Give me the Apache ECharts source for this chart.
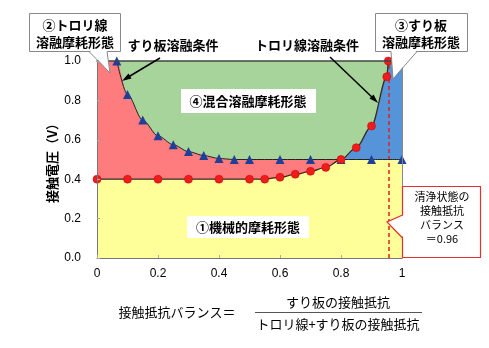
<!DOCTYPE html>
<html><head><meta charset="utf-8">
<script src="https://cdn.jsdelivr.net/npm/echarts@6/dist/echarts.min.js"></script>
<style>html,body{margin:0;padding:0;background:#fff}#c{width:489px;height:348px}</style>
</head><body><div id="c"></div>
<script>
// Data
const slideX = [0.065, 0.1, 0.15, 0.2, 0.25, 0.3, 0.35, 0.4, 0.45, 0.5, 0.6, 0.7, 0.8, 0.9, 1.0];
const slideY = [1.0, 0.83, 0.70, 0.62, 0.575, 0.54, 0.52, 0.505, 0.5, 0.5, 0.5, 0.5, 0.5, 0.5, 0.5];
const trolleyX = [0, 0.1, 0.2, 0.3, 0.4, 0.5, 0.55, 0.6, 0.65, 0.7, 0.75, 0.8, 0.85, 0.9, 0.95, 0.955];
const trolleyY = [0.4, 0.4, 0.4, 0.4, 0.4, 0.4, 0.4, 0.41, 0.425, 0.44, 0.46, 0.5, 0.56, 0.67, 0.92, 1.0];
const cleanBalance = 0.955;
const xTicks = [0, 0.2, 0.4, 0.6, 0.8, 1];
const yTicks = [0, 0.2, 0.4, 0.6, 0.8, 1.0];

const zip = (xs, ys) => xs.map((x, i) => [x, ys[i]]);
const slidePts = zip(slideX, slideY);
const trolleyPts = zip(trolleyX, trolleyY);
// region boundaries derived from the two curves
const pinkTop = [[0, 1.0]].concat(slidePts);
const blueTop = trolleyPts.concat([[1, 1.0]]);
const yellowTop = trolleyPts.filter(p => p[0] <= 0.8).concat(slidePts.filter(p => p[0] > 0.8));
const greenTop = [[0, 1.0], [1, 1.0]];

const F = '"Noto Sans CJK JP", sans-serif';
const area = (data, color, z, smooth) => ({
  type: 'line', data, smooth: smooth, smoothMonotone: 'x', symbol: 'none', z,
  lineStyle: { width: 0 }, areaStyle: { color, opacity: 1, origin: 'start' }, silent: true
});

const chart = echarts.init(document.getElementById('c'), null, { renderer: 'canvas' });
const txt = (x, y, s, size, weight, align) => ({
  type: 'text', x, y, z: 100,
  style: { text: s, font: (weight || 'normal') + ' ' + size + 'px ' + F, fill: '#000', textAlign: align || 'center', textVerticalAlign: 'middle' }
});
chart.setOption({
  animation: false,
  grid: { left: 97, right: 87, top: 61, bottom: 90 },
  xAxis: [{
    type: 'value', min: 0, max: 1, interval: 0.2,
    axisLine: { show: true, lineStyle: { color: '#777', width: 1 } },
    axisTick: { show: true, inside: true, length: 3, lineStyle: { color: '#aaa' } },
    splitLine: { show: false },
    axisLabel: { color: '#000', fontSize: 12, fontFamily: 'Liberation Sans, Arial', margin: 10,
      formatter: v => { const t = xTicks.find(k => Math.abs(k - v) < 1e-6); return t === undefined ? '' : String(t); } },
    z: 50
  }, {
    type: 'value', min: 0, max: 1, position: 'top',
    axisLine: { show: true, onZero: false, lineStyle: { color: '#444', width: 1.5 } },
    axisTick: { show: false }, axisLabel: { show: false }, splitLine: { show: false }, z: 50
  }],
  yAxis: [{
    type: 'value', min: 0, max: 1, interval: 0.2,
    axisLine: { show: true, lineStyle: { color: '#777', width: 1 } },
    axisTick: { show: true, inside: true, length: 3, lineStyle: { color: '#aaa' } },
    splitLine: { show: false },
    axisLabel: { color: '#000', fontSize: 12, fontFamily: 'Liberation Sans, Arial', margin: 16,
      formatter: v => { const t = yTicks.find(k => Math.abs(k - v) < 1e-6); return t === undefined ? '' : t.toFixed(1); } },
    z: 50
  }, {
    type: 'value', min: 0, max: 1, position: 'right',
    axisLine: { show: true, onZero: false, lineStyle: { color: '#888', width: 1 } },
    axisTick: { show: false }, axisLabel: { show: false }, splitLine: { show: false }, z: 50
  }],
  series: [
    area(greenTop, '#a6d49a', 1, false),
    area(pinkTop, '#ff7c7e', 2, 0.3),
    area(blueTop, '#5594d8', 3, 0.3),
    area(yellowTop, '#ffff99', 4, 0.3),
    {
      type: 'line', data: slidePts, smooth: 0.3, smoothMonotone: 'x', z: 10,
      symbol: 'triangle', symbolSize: 9,
      itemStyle: { color: '#1f3f99' }, lineStyle: { color: '#222', width: 1 }
    },
    {
      type: 'line', data: trolleyPts, smooth: 0.3, smoothMonotone: 'x', z: 11,
      symbol: 'circle', symbolSize: 8,
      itemStyle: { color: '#ee1c1c', borderColor: '#c00', borderWidth: 0.5 }, lineStyle: { color: '#3a2a20', width: 1.3 },
      markLine: {
        silent: true, symbol: 'none', label: { show: false },
        lineStyle: { color: '#e02020', type: [4, 3], width: 1.5 },
        data: [[{ coord: [cleanBalance, 0] }, { coord: [cleanBalance, 1.0] }]]
      }
    }
  ],
  graphic: [
    // region labels
    { type: 'rect', shape: { x: 181, y: 89, width: 135, height: 24 }, style: { fill: '#fff' }, z: 90 },
    txt(248, 101, '④混合溶融摩耗形態', 13, 'bold'),
    { type: 'rect', shape: { x: 187, y: 216, width: 122, height: 22 }, style: { fill: '#fff' }, z: 90 },
    txt(248, 227, '①機械的摩耗形態', 13, 'bold'),
    // callout ② trolley wire
    { type: 'rect', shape: { x: 29.5, y: 13.5, width: 91, height: 38 }, style: { fill: '#fff', stroke: '#888', lineWidth: 1 }, z: 90 },
    { type: 'polygon', shape: { points: [[89, 50], [110, 73], [107, 50]] }, style: { fill: '#fff' }, z: 91 },
    { type: 'polyline', shape: { points: [[89, 51.5], [110, 73], [107, 51.5]] }, style: { stroke: '#888', fill: null, lineWidth: 1 }, z: 91 },
    txt(75, 25, '②トロリ線', 13, 'bold'),
    txt(75, 42, '溶融摩耗形態', 13, 'bold'),
    // callout ③ slide plate
    { type: 'rect', shape: { x: 375.5, y: 13.5, width: 92, height: 38 }, style: { fill: '#fff', stroke: '#888', lineWidth: 1 }, z: 90 },
    { type: 'polygon', shape: { points: [[391, 50], [393, 79], [417, 50]] }, style: { fill: '#fff' }, z: 91 },
    { type: 'polyline', shape: { points: [[391, 51.5], [393, 79], [417, 51.5]] }, style: { stroke: '#888', fill: null, lineWidth: 1 }, z: 91 },
    txt(421, 25, '③すり板', 13, 'bold'),
    txt(421, 42, '溶融摩耗形態', 13, 'bold'),
    // condition labels with arrows
    txt(173, 45, 'すり板溶融条件', 13, 'bold'),
    { type: 'line', shape: { x1: 160, y1: 58, x2: 125, y2: 79 }, style: { stroke: '#000', lineWidth: 1.5 }, z: 95 },
    { type: 'polygon', shape: { points: [[122, 81], [128.5, 73.5], [131.5, 78.5]] }, style: { fill: '#000' }, z: 95 },
    txt(307, 45, 'トロリ線溶融条件', 13, 'bold'),
    { type: 'line', shape: { x1: 330, y1: 57, x2: 375, y2: 100 }, style: { stroke: '#000', lineWidth: 1.5 }, z: 95 },
    { type: 'polygon', shape: { points: [[378, 103], [369.5, 98.5], [373.5, 94.5]] }, style: { fill: '#000' }, z: 95 },
    // clean-state callout
    { type: 'rect', shape: { x: 402.5, y: 186.5, width: 78, height: 71 }, style: { fill: '#fff', stroke: '#e03030', lineWidth: 1.2 }, z: 90 },
    { type: 'polygon', shape: { points: [[404, 215], [387, 222], [404, 238]] }, style: { fill: '#fff' }, z: 91 },
    { type: 'polyline', shape: { points: [[402.5, 215], [387, 222], [402.5, 238]] }, style: { stroke: '#e03030', fill: null, lineWidth: 1.2 }, z: 91 },
    txt(442, 197, '清浄状態の', 11),
    txt(442, 211, '接触抵抗', 11),
    txt(442, 225, 'バランス', 11),
    txt(442, 239, '＝0.96', 11),
    // y-axis title
    { type: 'text', x: 52, y: 160, rotation: Math.PI / 2, z: 100,
      style: { text: '接触電圧（V）', font: 'bold 13px ' + F, fill: '#000', textAlign: 'center', textVerticalAlign: 'middle' } },
    // formula
    txt(177, 312, '接触抵抗バランス＝', 13),
    txt(338, 302, 'すり板の接触抵抗', 13),
    { type: 'line', shape: { x1: 255, y1: 312.5, x2: 422, y2: 312.5 }, style: { stroke: '#555', lineWidth: 1 }, z: 100 },
    txt(338, 324, 'トロリ線+すり板の接触抵抗', 13)
  ]
});
</script></body></html>
